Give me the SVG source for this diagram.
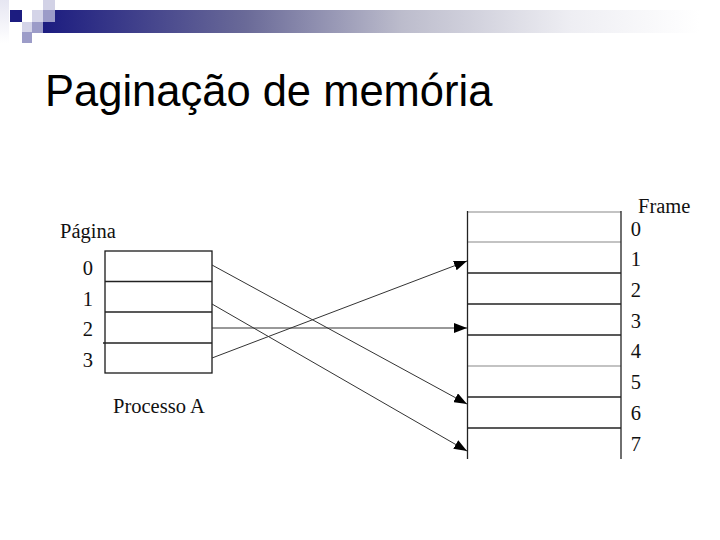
<svg xmlns="http://www.w3.org/2000/svg" width="720" height="540" viewBox="0 0 720 540">
<style>
.lbl{font-family:"Liberation Serif","Times New Roman",serif;font-size:20.5px;fill:#111}
.title{font-family:"Liberation Sans",Arial,sans-serif;font-size:43.5px;fill:#000}
.cell{fill:#fff;stroke:#1a1a1a;stroke-width:1.3}
.div{stroke:#222;stroke-width:1.3}
.divl{stroke:#888;stroke-width:1.2}
.conn{stroke:#333;stroke-width:1;fill:none}
</style>
<defs>
<linearGradient id="bar" x1="43" y1="0" x2="720" y2="0" gradientUnits="userSpaceOnUse">
<stop offset="0" stop-color="#1c1c80"/>
<stop offset="0.3" stop-color="#6a6a98"/>
<stop offset="0.53" stop-color="#bcbccc"/>
<stop offset="0.78" stop-color="#eeeef3"/>
<stop offset="0.97" stop-color="#ffffff"/>
</linearGradient>
<linearGradient id="side" x1="0" y1="0" x2="0" y2="1">
<stop offset="0" stop-color="#e6e6f2"/>
<stop offset="1" stop-color="#ffffff"/>
</linearGradient>
<marker id="ah" markerUnits="userSpaceOnUse" markerWidth="14" markerHeight="10" refX="13" refY="5" orient="auto">
<path d="M0,0 L13,5 L0,10 z" fill="#000"/>
</marker>
</defs>
<rect width="720" height="540" fill="#fff"/>
<g id="header">
<rect x="0" y="0" width="9" height="43" fill="url(#side)"/>
<rect x="43" y="10" width="677" height="23" fill="url(#bar)"/>
<rect x="10" y="10" width="12" height="12" fill="#1c1c80"/>
<rect x="43" y="0" width="12" height="10" fill="#d2d2e6"/>
<rect x="32" y="10" width="11" height="12" fill="#d4d4e8"/>
<rect x="43" y="10" width="12" height="12" fill="#9c9cc8"/>
<rect x="22" y="22" width="10" height="10" fill="#d4d4e8"/>
<rect x="32" y="22" width="11" height="11" fill="#9c9cc8"/>
<rect x="22" y="32" width="10" height="11" fill="#9c9cc8"/>
</g>
<text class="title" x="45" y="106">Paginação de memória</text>
<g id="page-table">
<rect class="cell" x="105" y="251" width="107" height="122"/>
<line class="div" x1="105" y1="281.5" x2="212" y2="281.5"/>
<line class="div" x1="105" y1="312" x2="212" y2="312"/>
<line class="div" x1="103" y1="343" x2="212" y2="343"/>
<text class="lbl" x="60" y="238">Página</text>
<text class="lbl" x="93" y="275" text-anchor="end">0</text>
<text class="lbl" x="93" y="306" text-anchor="end">1</text>
<text class="lbl" x="93" y="336" text-anchor="end">2</text>
<text class="lbl" x="93" y="367" text-anchor="end">3</text>
<text class="lbl" x="113" y="413">Processo A</text>
</g>
<g id="frame-table">
<line class="divl" x1="467" y1="212" x2="621" y2="212"/>
<line class="divl" x1="467" y1="242" x2="621" y2="242"/>
<line class="div" x1="467" y1="273" x2="621" y2="273"/>
<line class="div" x1="467" y1="304" x2="621" y2="304"/>
<line class="div" x1="467" y1="335" x2="621" y2="335"/>
<line class="divl" x1="467" y1="366" x2="621" y2="366"/>
<line class="div" x1="467" y1="397" x2="621" y2="397"/>
<line class="div" x1="467" y1="428" x2="621" y2="428"/>
<line class="div" x1="467.5" y1="211" x2="467.5" y2="459"/>
<line class="div" x1="621" y1="211" x2="621" y2="459"/>
<text class="lbl" x="638" y="213">Frame</text>
<text class="lbl" x="641" y="236" text-anchor="end">0</text>
<text class="lbl" x="641" y="266" text-anchor="end">1</text>
<text class="lbl" x="641" y="297" text-anchor="end">2</text>
<text class="lbl" x="641" y="328" text-anchor="end">3</text>
<text class="lbl" x="641" y="358" text-anchor="end">4</text>
<text class="lbl" x="641" y="389" text-anchor="end">5</text>
<text class="lbl" x="641" y="420" text-anchor="end">6</text>
<text class="lbl" x="641" y="451" text-anchor="end">7</text>
</g>
<g id="connectors">
<line class="conn" x1="212" y1="265" x2="467" y2="404" marker-end="url(#ah)"/>
<line class="conn" x1="212" y1="304" x2="467" y2="451" marker-end="url(#ah)"/>
<line class="conn" x1="212" y1="328" x2="467" y2="328" marker-end="url(#ah)"/>
<line class="conn" x1="212" y1="358" x2="467" y2="261" marker-end="url(#ah)"/>
</g>
</svg>
